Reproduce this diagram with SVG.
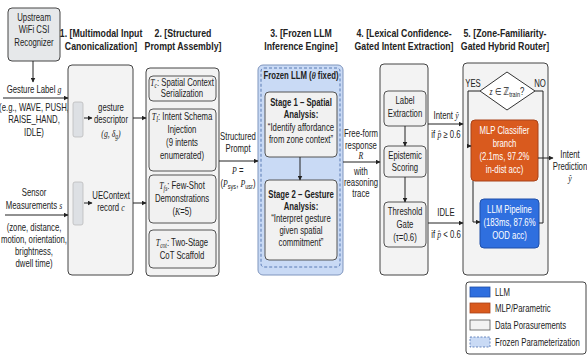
<svg xmlns="http://www.w3.org/2000/svg" width="587" height="355" viewBox="0 0 587 355">
<defs>
<marker id="ah" viewBox="0 0 10 10" refX="9" refY="5" markerWidth="5" markerHeight="5" orient="auto"><path d="M0,0 L10,5 L0,10 z" fill="#222"/></marker>
<style>
text{font-family:"Liberation Sans",Arial,sans-serif;font-size:10.5px;fill:#222;text-anchor:middle;transform-box:fill-box;transform-origin:center;transform:scaleX(0.74)}
.t{font-weight:bold;font-size:11.5px;transform:scaleX(0.76)}
.b{font-weight:bold}
.w{fill:#fff}
.m{font-family:"Liberation Serif","DejaVu Serif",serif;font-style:italic}
text.l{text-anchor:start;transform-origin:left center}
.stage{fill:#f3f3f3;stroke:#444;stroke-width:1}
.sub{fill:#f1f1f1;stroke:#555;stroke-width:1}
.inner{fill:#dde0e4;stroke:#bbb;stroke-width:0.8}
.c{fill:none;stroke:#222;stroke-width:1}
</style>
</defs>
<rect width="587" height="355" fill="#fff"/>

<g id="upstream">
<rect x="8" y="8" width="52" height="53" rx="4" fill="#e6e8ea" stroke="#444"/>
<text x="34" y="21">Upstream</text>
<text x="34" y="33">WiFi CSI</text>
<text x="34" y="46">Recognizer</text>
</g>

<g id="inputs">
<text x="34" y="93">Gesture Label <tspan class="m">g</tspan></text>
<text x="34" y="111">(e.g., WAVE, PUSH,</text>
<text x="34" y="123">RAISE_HAND,</text>
<text x="34" y="136">IDLE)</text>
<text x="34" y="196">Sensor</text>
<text x="34" y="209">Measurements <tspan class="m">s</tspan></text>
<text x="34" y="231">(zone, distance,</text>
<text x="34" y="243">motion, orientation,</text>
<text x="34" y="255">brightness,</text>
<text x="34" y="267">dwell time)</text>
</g>

<g id="stage1">
<text class="t" x="101" y="37">1. [Multimodal Input</text>
<text class="t" x="101" y="50">Canonicalization]</text>
<rect class="stage" x="68" y="65" width="65" height="210" rx="4"/>
<rect class="inner" x="73" y="102" width="10" height="35" rx="2"/>
<rect class="inner" x="73" y="182" width="10" height="43" rx="2"/>
<text x="111" y="111">gesture</text>
<text x="111" y="123">descriptor</text>
<text x="111" y="137" class="m">(g, δ<tspan font-size="7.5" dy="2">g</tspan><tspan dy="-2">)</tspan></text>
<text x="111" y="199">UEContext</text>
<text x="111" y="211">record <tspan class="m">c</tspan></text>
</g>

<g id="stage2">
<text class="t" x="183" y="37">2. [Structured</text>
<text class="t" x="183" y="50">Prompt Assembly]</text>
<rect class="stage" x="146" y="68" width="73" height="208" rx="4"/>
<rect class="sub" x="149" y="76" width="67" height="25" rx="4"/>
<text x="182" y="86"><tspan class="m">T</tspan><tspan class="m" font-size="7.5" dy="2">c</tspan><tspan dy="-2">: Spatial Context</tspan></text>
<text x="182" y="97">Serialization</text>
<rect class="sub" x="149" y="109" width="67" height="62" rx="4"/>
<text x="182" y="120"><tspan class="m">T</tspan><tspan class="m" font-size="7.5" dy="2">I</tspan><tspan dy="-2">: Intent Schema</tspan></text>
<text x="182" y="133">Injection</text>
<text x="182" y="146">(9 intents</text>
<text x="182" y="159">enumerated)</text>
<rect class="sub" x="149" y="175" width="67" height="48" rx="4"/>
<text x="182" y="189"><tspan class="m">T</tspan><tspan class="m" font-size="7.5" dy="2">fs</tspan><tspan dy="-2">: Few-Shot</tspan></text>
<text x="182" y="202">Demonstrations</text>
<text x="182" y="215">(<tspan class="m">K</tspan>=5)</text>
<rect class="sub" x="149" y="230" width="67" height="38" rx="4"/>
<text x="182" y="246"><tspan class="m">T</tspan><tspan class="m" font-size="7.5" dy="2">cot</tspan><tspan dy="-2">: Two-Stage</tspan></text>
<text x="182" y="259">CoT Scaffold</text>
</g>

<g id="prompt-label">
<text x="238" y="140">Structured</text>
<text x="238" y="152">Prompt</text>
<text x="238" y="174"><tspan class="m">P</tspan> =</text>
<text x="238" y="187">(<tspan class="m">P</tspan><tspan font-size="7.5" dy="2">sys</tspan><tspan dy="-2">, </tspan><tspan class="m">P</tspan><tspan font-size="7.5" dy="2">usr</tspan><tspan dy="-2">)</tspan></text>
</g>

<g id="stage3">
<text class="t" x="301" y="37">3. [Frozen LLM</text>
<text class="t" x="301" y="50">Inference Engine]</text>
<rect x="258" y="65" width="85" height="210" rx="5" fill="#c9daf5" stroke="#7f95bd" stroke-width="1"/>
<rect x="261" y="68" width="79" height="199" rx="3" fill="none" stroke="#4d6fae" stroke-width="0.9" stroke-dasharray="3,2"/>
<text class="b" x="301" y="79">Frozen LLM (<tspan class="m">θ</tspan> fixed)</text>
<rect class="sub" x="265" y="92" width="72" height="65" rx="4"/>
<text class="b" x="301" y="106">Stage 1 – Spatial</text>
<text class="b" x="301" y="118">Analysis:</text>
<text x="301" y="131">“Identify affordance</text>
<text x="301" y="143">from zone context”</text>
<rect class="sub" x="265" y="180" width="72" height="80" rx="4"/>
<text class="b" x="301" y="198">Stage 2 – Gesture</text>
<text class="b" x="301" y="210">Analysis:</text>
<text x="301" y="222">“Interpret gesture</text>
<text x="301" y="234">given spatial</text>
<text x="301" y="246">commitment”</text>
</g>

<g id="response-label">
<text x="361" y="137">Free-form</text>
<text x="361" y="149">response</text>
<text x="361" y="159" class="m">R</text>
<text x="361" y="175">with</text>
<text x="361" y="186">reasoning</text>
<text x="361" y="197">trace</text>
</g>

<g id="stage4">
<text class="t" x="404" y="37">4. [Lexical Confidence-</text>
<text class="t" x="404" y="50">Gated Intent Extraction]</text>
<rect class="stage" x="380" y="64" width="48" height="211" rx="4"/>
<rect class="sub" x="384" y="91" width="42" height="35" rx="4"/>
<text x="405" y="104">Label</text>
<text x="405" y="117">Extraction</text>
<rect class="sub" x="384" y="146" width="42" height="31" rx="4"/>
<text x="405" y="159">Epistemic</text>
<text x="405" y="171">Scoring</text>
<rect class="sub" x="384" y="202" width="42" height="45" rx="4"/>
<text x="405" y="215">Threshold</text>
<text x="405" y="228">Gate</text>
<text x="405" y="241">(τ=0.6)</text>
</g>

<g id="gate-labels">
<text x="446" y="119">Intent <tspan class="m">ŷ</tspan></text>
<text x="446" y="138">if <tspan class="m">p̂</tspan> ≥ 0.6</text>
<text x="446" y="216">IDLE</text>
<text x="446" y="238">if <tspan class="m">p̂</tspan> &lt; 0.6</text>
</g>

<g id="stage5">
<text class="t" x="505" y="37">5. [Zone-Familiarity-</text>
<text class="t" x="505" y="50">Gated Hybrid Router]</text>
<rect class="stage" x="463" y="63" width="85" height="212" rx="4"/>
</g>

<g id="decision">
<polygon points="507,72 535,91 507,110 480,91" fill="#fff" stroke="#333"/>
<text x="507" y="95"><tspan class="m">z</tspan> ∈ <tspan font-family="DejaVu Sans">ℤ</tspan><tspan font-size="7.5" dy="2">train</tspan><tspan dy="-2">?</tspan></text>
<text x="473" y="87" font-size="9">YES</text>
<text x="540" y="87" font-size="9">NO</text>
</g>

<g id="mlp">
<rect x="471" y="120" width="67" height="61" rx="4" fill="#d95a1e" stroke="#a8431a"/>
<text class="w" x="504.5" y="134">MLP Classifier</text>
<text class="w" x="504.5" y="147">branch</text>
<text class="w" x="504.5" y="160">(2.1ms, 97.2%</text>
<text class="w" x="504.5" y="173">in-dist acc)</text>
</g>

<g id="llm">
<rect x="480" y="199" width="59" height="49" rx="4" fill="#2f6fdf" stroke="#1f4fa8"/>
<text class="w" x="509.5" y="213">LLM Pipeline</text>
<text class="w" x="509.5" y="226">(183ms, 87.6%</text>
<text class="w" x="509.5" y="239">OOD acc)</text>
</g>

<g id="output">
<text x="570" y="158">Intent</text>
<text x="570" y="170">Prediction</text>
<text x="570" y="182" class="m">ŷ</text>
</g>

<g id="legend">
<rect x="466" y="282" width="120" height="72" rx="3" fill="#fff" stroke="#444"/>
<rect x="470" y="287" width="20" height="10" fill="#2f6fdf" stroke="#1f4fa8" stroke-width="0.8"/>
<text class="l" x="495" y="296">LLM</text>
<rect x="470" y="303" width="20" height="10" fill="#d95a1e" stroke="#a8431a" stroke-width="0.8"/>
<text class="l" x="495" y="312">MLP/Parametric</text>
<rect x="470" y="320" width="20" height="10" fill="#f3f3f3" stroke="#555" stroke-width="0.8"/>
<text class="l" x="495" y="329">Data Porasurements</text>
<rect x="470" y="337" width="20" height="10" fill="#c9daf5" stroke="#4d6fae" stroke-width="0.8" stroke-dasharray="2,1.5"/>
<text class="l" x="495" y="346">Frozen Parameterization</text>
</g>

<g id="connectors">
<path class="c" d="M33,61 V82" marker-end="url(#ah)"/>
<path class="c" d="M3,98 H68" marker-end="url(#ah)"/>
<path class="c" d="M5,215 H68" marker-end="url(#ah)"/>
<path class="c" d="M84,118 H92" marker-end="url(#ah)"/>
<path class="c" d="M84,203 H92" marker-end="url(#ah)"/>
<path class="c" d="M133,118 H146" marker-end="url(#ah)"/>
<path class="c" d="M133,203 H146" marker-end="url(#ah)"/>
<path class="c" d="M219,161 H258" marker-end="url(#ah)"/>
<path class="c" d="M300,157 V180" marker-end="url(#ah)"/>
<path class="c" d="M343,162 H380" marker-end="url(#ah)"/>
<path class="c" d="M405,126 V146" marker-end="url(#ah)"/>
<path class="c" d="M405,177 V202" marker-end="url(#ah)"/>
<path class="c" d="M428,124 H463" marker-end="url(#ah)"/>
<path class="c" d="M428,223 H463" marker-end="url(#ah)"/>
<path class="c" d="M480,91 H468 V146 H471" marker-end="url(#ah)"/>
<path class="c" d="M535,91 H543 V223 H539"/>
<path class="c" d="M473,181 V222 H480" marker-end="url(#ah)"/>
<path class="c" d="M538,158 H553" marker-end="url(#ah)"/>
</g>
</svg>
